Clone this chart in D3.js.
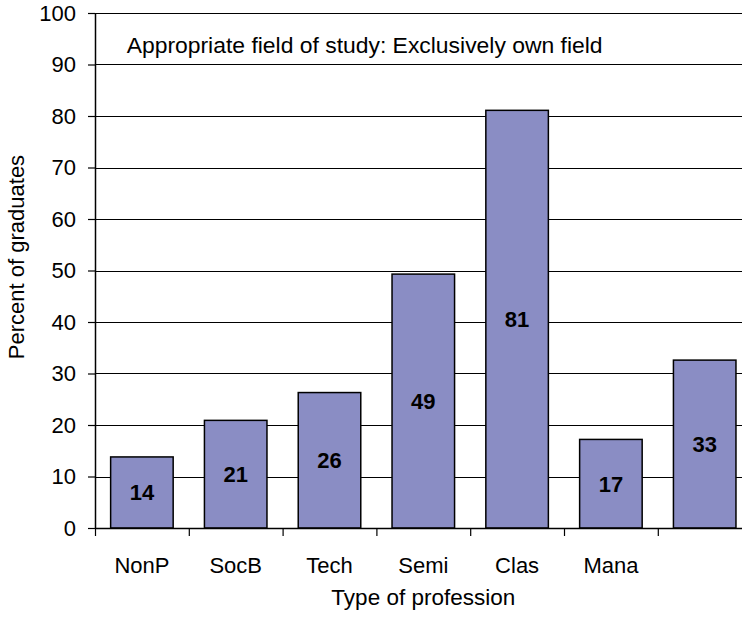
<!DOCTYPE html>
<html>
<head>
<meta charset="utf-8">
<script src="https://cdn.jsdelivr.net/npm/d3@7"></script>
<style>
  html, body { margin: 0; padding: 0; background: #fff; }
  svg { display: block; overflow: hidden; }
  text { font-family: "Liberation Sans", Arial, sans-serif; fill: #000; }
</style>
</head>
<body>
<svg id="chart" width="742" height="617"></svg>
<script>
const categories = ["NonP", "SocB", "Tech", "Semi", "Clas", "Mana", ""];
const values = [13.8, 20.9, 26.3, 49.3, 81.1, 17.2, 32.6];
const yTicks = [0, 10, 20, 30, 40, 50, 60, 70, 80, 90, 100];
const chartTitle = "Appropriate field of study: Exclusively own field";
const yTitle = "Percent of graduates";
const xTitle = "Type of profession";

const svg = d3.select("#chart");
const plotLeft = 95, plotRight = 751.6, plotTop = 13, plotBottom = 528;

const x = d3.scaleBand()
  .domain(d3.range(categories.length))
  .range([plotLeft, plotRight])
  .paddingInner(1 / 3)
  .paddingOuter(1 / 6);
const xb = d3.scaleLinear().domain([0, categories.length]).range([plotLeft, plotRight]);
const y = d3.scaleLinear().domain([0, 100]).range([plotBottom, plotTop]);

// gridlines
svg.append("g").selectAll("line")
  .data(yTicks.filter(d => d > 0))
  .join("line")
  .attr("x1", plotLeft).attr("x2", plotRight)
  .attr("y1", d => Math.round(y(d)) + 0.5).attr("y2", d => Math.round(y(d)) + 0.5)
  .attr("stroke", "#000").attr("stroke-width", 1.2);

// bars
svg.append("g").selectAll("rect")
  .data(values)
  .join("rect")
  .attr("x", (d, i) => x(i))
  .attr("width", x.bandwidth())
  .attr("y", d => y(d))
  .attr("height", d => y(0) - y(d))
  .attr("fill", "#8a8dc4")
  .attr("stroke", "#000")
  .attr("stroke-width", 1.5);

// value labels
svg.append("g").selectAll("text")
  .data(values)
  .join("text")
  .attr("x", (d, i) => x(i) + x.bandwidth() / 2)
  .attr("y", d => (y(d) + y(0)) / 2)
  .attr("dy", "0.36em")
  .attr("text-anchor", "middle")
  .style("font-size", "22px")
  .style("font-weight", "bold")
  .text(d => Math.round(d));

// y axis
const yAxis = svg.append("g")
  .attr("transform", `translate(${plotLeft},0)`)
  .call(d3.axisLeft(y).tickValues(yTicks).tickSize(7).tickPadding(12).tickSizeOuter(0));
yAxis.select(".domain").attr("stroke", "#000").attr("stroke-width", 1.5);
yAxis.selectAll(".tick line").attr("stroke", "#000").attr("stroke-width", 1.2);
yAxis.selectAll("text").style("font-size", "22px").style("font-family", "Liberation Sans, Arial, sans-serif").attr("fill", "#000");

// x axis: boundary ticks
const xAxisTicks = svg.append("g")
  .attr("transform", `translate(0,${plotBottom})`)
  .call(d3.axisBottom(xb).tickValues(d3.range(categories.length + 1)).tickSize(8).tickFormat("").tickSizeOuter(0));
xAxisTicks.select(".domain").attr("stroke", "#000").attr("stroke-width", 1.5);
xAxisTicks.selectAll(".tick line").attr("stroke", "#000").attr("stroke-width", 1.2);

// x axis: category labels
const xAxisLabels = svg.append("g")
  .attr("transform", `translate(0,${plotBottom})`)
  .call(d3.axisBottom(x).tickSize(0).tickPadding(29.4).tickFormat(i => categories[i]));
xAxisLabels.select(".domain").remove();
xAxisLabels.selectAll("text").style("font-size", "22px").style("font-family", "Liberation Sans, Arial, sans-serif").attr("fill", "#000");

// chart title inside plot
svg.append("text")
  .attr("x", 126.7).attr("y", 53.3)
  .style("font-size", "22.9px")
  .text(chartTitle);

// axis titles
svg.append("text")
  .attr("transform", `translate(24,257) rotate(-90)`)
  .attr("text-anchor", "middle")
  .style("font-size", "22px")
  .text(yTitle);

svg.append("text")
  .attr("x", (plotLeft + plotRight) / 2).attr("y", 605)
  .attr("text-anchor", "middle")
  .style("font-size", "22.5px")
  .text(xTitle);
</script>
</body>
</html>
